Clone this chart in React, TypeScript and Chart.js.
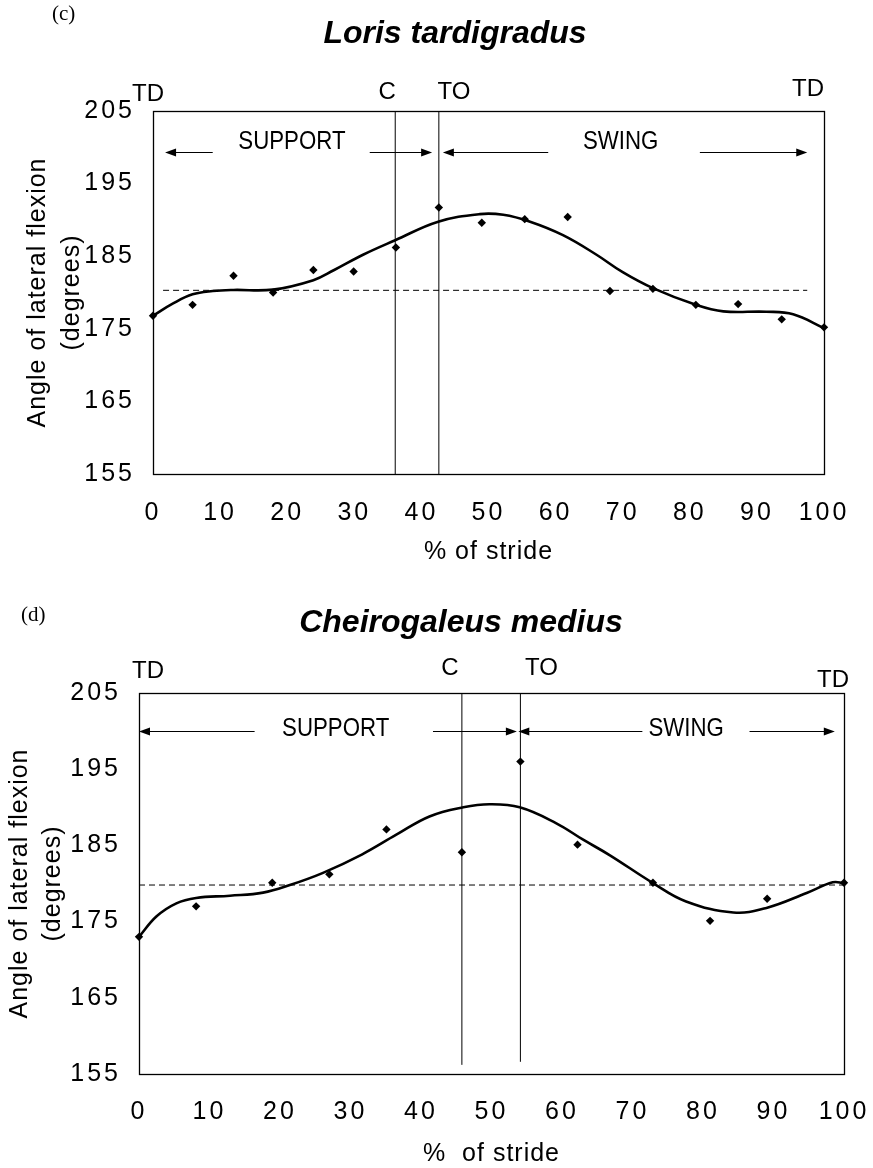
import React, { useEffect, useRef } from 'react';
import { Chart, registerables } from 'chart.js';

Chart.register(...registerables);

// ---------- shared axis ticks ----------
const strideTicks = [0, 10, 20, 30, 40, 50, 60, 70, 80, 90, 100];
const angleTicks = [155, 165, 175, 185, 195, 205];

// ---------- (c) Loris tardigradus ----------
const lorisStride = [0, 5.9, 12.0, 17.9, 23.9, 29.9, 36.2, 42.6, 49.0, 55.4, 61.8, 68.1, 74.5, 80.9, 87.2, 93.7, 100];
const lorisAngle = [176.8, 178.3, 182.3, 180.0, 183.1, 182.9, 186.2, 191.7, 189.6, 190.1, 190.4, 180.2, 180.5, 178.3, 178.4, 176.3, 175.2];
const lorisFitStride = [0, 3, 5.9, 8.9, 12, 17.9, 23.9, 27.0, 31.3, 36.1, 42.5, 48.7, 52.2, 56.2, 61.1, 66.1, 70.0, 74.5, 80.9, 85, 91.4, 95.4, 100];
const lorisFitAngle = [176.8, 178.5, 179.75, 180.2, 180.35, 180.4, 181.7, 183.1, 185.2, 187.2, 189.75, 190.8, 190.7, 189.75, 187.9, 185.2, 182.8, 180.6, 178.3, 177.4, 177.35, 177.0, 175.1];
const lorisMean = [180.3];
const lorisMeanSpan = [1.5, 97.5];
const lorisEventLabels = ['TD', 'C', 'TO', 'TD'];
const lorisEventAt = [0, 36.1, 42.6, 100];
const lorisContactSpan = [155, 205];
const lorisToeOffSpan = [155, 205];
const lorisArrowLevel = [199.35];
const lorisArrowTail = [8.9, 32.3, 58.9, 81.5];
const lorisArrowTip = [1.8, 41.6, 43.2, 97.5];
const lorisPhaseLabels = ['SUPPORT', 'SWING'];
const lorisPhaseAt = [20.7, 69.7];

// ---------- (d) Cheirogaleus medius ----------
const cheiroStride = [0, 8.1, 18.9, 27.0, 35.1, 45.8, 54.1, 62.2, 72.9, 81.0, 89.1, 100];
const cheiroAngle = [173.0, 177.0, 180.1, 181.2, 187.1, 184.1, 196.0, 185.1, 180.1, 175.1, 178.0, 180.1];
const cheiroFitStride = [0, 2.5, 5.3, 8.1, 12.9, 17.6, 21.4, 26.1, 31.6, 36.5, 41.2, 46.0, 49.7, 54.0, 59.2, 63.0, 66.8, 72.9, 77.6, 84.3, 89.0, 94.7, 98.4, 100];
const cheiroFitAngle = [173.0, 175.7, 177.4, 178.1, 178.4, 178.8, 179.8, 181.4, 183.8, 186.4, 188.8, 190.0, 190.4, 190.0, 187.9, 185.75, 183.7, 180.06, 177.65, 176.2, 176.8, 178.75, 180.15, 180.06];
const cheiroMean = [179.8];
const cheiroMeanSpan = [0, 100];
const cheiroEventLabels = ['TD', 'C', 'TO', 'TD'];
const cheiroEventAt = [0, 45.8, 54.1, 100];
const cheiroContactSpan = [156.2, 205];
const cheiroToeOffSpan = [156.6, 205];
const cheiroArrowLevel = [200.0];
const cheiroArrowTail = [16.4, 41.7, 71.4, 86.6];
const cheiroArrowTip = [0, 53.6, 53.8, 98.7];
const cheiroPhaseLabels = ['SUPPORT', 'SWING'];
const cheiroPhaseAt = [27.9, 77.6];

const FONT = "'Liberation Sans', Arial, Helvetica, sans-serif";
Chart.defaults.font.family = FONT;
Chart.defaults.color = '#000';

type Panel = {
  letter: string;
  title: string;
  xTitle: string;
  stride: number[];
  angle: number[];
  fitStride: number[];
  fitAngle: number[];
  mean: number;
  meanSpan: number[];
  eventLabels: string[];
  eventAt: number[];
  contactSpan: number[];
  toeOffSpan: number[];
  arrowLevel: number;
  arrowTail: number[];
  arrowTip: number[];
  phaseLabels: string[];
  phaseAt: number[];
};

type Layout = {
  padTop: number;
  padRight: number;
  yAxisW: number;
  xAxisH: number;
  yTickPad: number;
  xTickPad: number;
  yTitlePad: number;
  yTitleLH: number;
  xTitlePad: number;
  xTitleLH: number;
  letterX: number;
  letterY: number;
  titleX: number;
  titleY: number;
  eventDx: number[];
  eventDy: number[];
  phaseDy: number;
};

const lorisPanel: Panel = {
  letter: '(c)',
  title: 'Loris tardigradus',
  xTitle: '% of stride',
  stride: lorisStride,
  angle: lorisAngle,
  fitStride: lorisFitStride,
  fitAngle: lorisFitAngle,
  mean: lorisMean[0],
  meanSpan: lorisMeanSpan,
  eventLabels: lorisEventLabels,
  eventAt: lorisEventAt,
  contactSpan: lorisContactSpan,
  toeOffSpan: lorisToeOffSpan,
  arrowLevel: lorisArrowLevel[0],
  arrowTail: lorisArrowTail,
  arrowTip: lorisArrowTip,
  phaseLabels: lorisPhaseLabels,
  phaseAt: lorisPhaseAt,
};

const cheiroPanel: Panel = {
  letter: '(d)',
  title: 'Cheirogaleus medius',
  xTitle: '%  of stride',
  stride: cheiroStride,
  angle: cheiroAngle,
  fitStride: cheiroFitStride,
  fitAngle: cheiroFitAngle,
  mean: cheiroMean[0],
  meanSpan: cheiroMeanSpan,
  eventLabels: cheiroEventLabels,
  eventAt: cheiroEventAt,
  contactSpan: cheiroContactSpan,
  toeOffSpan: cheiroToeOffSpan,
  arrowLevel: cheiroArrowLevel[0],
  arrowTail: cheiroArrowTail,
  arrowTip: cheiroArrowTip,
  phaseLabels: cheiroPhaseLabels,
  phaseAt: cheiroPhaseAt,
};

const lorisLayout: Layout = {
  padTop: 111,
  padRight: 49,
  yAxisW: 153,
  xAxisH: 110,
  yTickPad: 18,
  xTickPad: 24,
  yTitlePad: 21,
  yTitleLH: 1.36,
  xTitlePad: 17,
  xTitleLH: 1.2,
  letterX: 52,
  letterY: 20,
  titleX: 455,
  titleY: 43,
  eventDx: [-5, -8, 15, -16],
  eventDy: [-16.5, -18.5, -18.5, -22],
  phaseDy: -10,
};

const cheiroLayout: Layout = {
  padTop: 109,
  padRight: 29,
  yAxisW: 139,
  xAxisH: 94,
  yTickPad: 18,
  xTickPad: 23,
  yTitlePad: 4,
  yTitleLH: 1.32,
  xTitlePad: 0,
  xTitleLH: 1.12,
  letterX: 21,
  letterY: 37,
  titleX: 461,
  titleY: 48,
  eventDx: [9, -12, 21, -11],
  eventDy: [-22, -25, -25, -13],
  phaseDy: -2,
};

function annotationPlugin(p: Panel, L: Layout) {
  return {
    id: 'strideAnnotations',
    afterUpdate(chart: any) {
      // wider letter spacing for the numeric tick labels only
      ['x', 'y'].forEach((id) => {
        const s = chart.scales[id];
        if (!s || s._spacedLabels) return;
        const orig = s.drawLabels.bind(s);
        s.drawLabels = (area: any) => {
          const c: any = s.ctx;
          const prev = c.letterSpacing;
          c.letterSpacing = '3px';
          orig(area);
          c.letterSpacing = prev;
        };
        s._spacedLabels = true;
      });
    },
    beforeDraw(chart: any) {
      (chart.ctx as any).letterSpacing = '1px';
    },
    afterDraw(chart: any) {
      const ctx: CanvasRenderingContext2D = chart.ctx;
      const a = chart.chartArea;
      const xs = chart.scales.x;
      const ys = chart.scales.y;
      ctx.save();
      (ctx as any).letterSpacing = '0px';
      ctx.fillStyle = '#000';
      ctx.strokeStyle = '#000';

      // plot frame
      ctx.lineWidth = 1.3;
      ctx.strokeRect(Math.round(a.left) + 0.5, Math.round(a.top) + 0.5, Math.round(a.right - a.left), Math.round(a.bottom - a.top));

      // panel letter
      ctx.font = "21px 'Liberation Serif', 'Times New Roman', serif";
      ctx.textAlign = 'left';
      ctx.textBaseline = 'alphabetic';
      ctx.fillText(p.letter, L.letterX, L.letterY);

      // title
      ctx.font = `italic bold 32px ${FONT}`;
      ctx.textAlign = 'center';
      ctx.fillText(p.title, L.titleX, L.titleY);

      // gait event labels
      ctx.font = `24px ${FONT}`;
      ctx.textBaseline = 'middle';
      ctx.textAlign = 'center';
      p.eventLabels.forEach((lab, i) => {
        ctx.fillText(lab, xs.getPixelForValue(p.eventAt[i]) + L.eventDx[i], a.top + L.eventDy[i]);
      });

      // phase arrows
      const yArrow = Math.round(ys.getPixelForValue(p.arrowLevel)) + 0.5;
      ctx.lineWidth = 1;
      p.arrowTail.forEach((tail, i) => {
        const x1 = xs.getPixelForValue(tail);
        const x2 = xs.getPixelForValue(p.arrowTip[i]);
        const dir = Math.sign(x2 - x1);
        ctx.beginPath();
        ctx.moveTo(x1, yArrow);
        ctx.lineTo(x2 - dir * 8, yArrow);
        ctx.stroke();
        ctx.beginPath();
        ctx.moveTo(x2, yArrow);
        ctx.lineTo(x2 - dir * 11, yArrow - 4);
        ctx.lineTo(x2 - dir * 11, yArrow + 4);
        ctx.closePath();
        ctx.fill();
      });

      // phase labels (condensed)
      ctx.font = `25px ${FONT}`;
      ctx.textAlign = 'center';
      ctx.textBaseline = 'middle';
      p.phaseLabels.forEach((lab, i) => {
        ctx.save();
        ctx.translate(xs.getPixelForValue(p.phaseAt[i]), yArrow + L.phaseDy);
        ctx.scale(0.89, 1);
        ctx.fillText(lab, 0, 0);
        ctx.restore();
      });
      ctx.restore();
    },
  };
}

function buildConfig(p: Panel, L: Layout): any {
  const black = '#000';
  return {
    type: 'scatter',
    data: {
      datasets: [
        {
          label: 'Measured angle',
          data: p.stride.map((x, i) => ({ x, y: p.angle[i] })),
          showLine: false,
          pointStyle: 'rectRot',
          pointRadius: 4.2,
          pointBackgroundColor: black,
          pointBorderColor: black,
          pointBorderWidth: 0,
          clip: false,
        },
        {
          label: 'Fitted curve',
          data: p.fitStride.map((x, i) => ({ x, y: p.fitAngle[i] })),
          showLine: true,
          borderColor: black,
          borderWidth: 2.6,
          pointRadius: 0,
          tension: 0.4,
          fill: false,
          clip: false,
        },
        {
          label: 'Mean',
          data: p.meanSpan.map((x) => ({ x, y: p.mean })),
          showLine: true,
          borderColor: black,
          borderWidth: 1,
          borderDash: [6, 4],
          pointRadius: 0,
          fill: false,
        },
        {
          label: 'C',
          data: p.contactSpan.map((y) => ({ x: p.eventAt[1], y })),
          showLine: true,
          borderColor: black,
          borderWidth: 1,
          pointRadius: 0,
          fill: false,
        },
        {
          label: 'TO',
          data: p.toeOffSpan.map((y) => ({ x: p.eventAt[2], y })),
          showLine: true,
          borderColor: black,
          borderWidth: 1,
          pointRadius: 0,
          fill: false,
        },
      ],
    },
    options: {
      animation: false,
      responsive: false,
      devicePixelRatio: 1,
      events: [],
      layout: { padding: { top: L.padTop, right: L.padRight, left: 0, bottom: 0 } },
      plugins: {
        legend: { display: false },
        tooltip: { enabled: false },
        title: { display: false },
      },
      scales: {
        x: {
          type: 'linear',
          min: 0,
          max: 100,
          afterBuildTicks: (s: any) => {
            s.ticks = strideTicks.map((value) => ({ value }));
          },
          grid: { display: false, drawTicks: false },
          border: { display: false },
          ticks: {
            color: black,
            font: { size: 25 },
            padding: L.xTickPad,
            maxRotation: 0,
            autoSkip: false,
          },
          title: {
            display: true,
            text: p.xTitle,
            color: black,
            font: { size: 25, lineHeight: L.xTitleLH },
            padding: { top: 0, bottom: L.xTitlePad },
          },
          afterFit: (s: any) => {
            s.height = L.xAxisH;
            s.paddingLeft = 0;
            s.paddingRight = 0;
          },
        },
        y: {
          type: 'linear',
          min: 155,
          max: 205,
          afterBuildTicks: (s: any) => {
            s.ticks = angleTicks.map((value) => ({ value }));
          },
          grid: { display: false, drawTicks: false },
          border: { display: false },
          ticks: {
            color: black,
            font: { size: 25 },
            padding: L.yTickPad,
            autoSkip: false,
          },
          title: {
            display: true,
            text: ['Angle of lateral flexion', '(degrees)'],
            color: black,
            font: { size: 25, lineHeight: L.yTitleLH },
            padding: { top: L.yTitlePad, bottom: 0 },
          },
          afterFit: (s: any) => {
            s.width = L.yAxisW;
            s.paddingTop = 0;
            s.paddingBottom = 0;
          },
        },
      },
    },
    plugins: [annotationPlugin(p, L)],
  };
}

function StridePanel({ panel, layout, top }: { panel: Panel; layout: Layout; top: number }) {
  const ref = useRef<HTMLCanvasElement>(null);
  useEffect(() => {
    if (!ref.current) return;
    const chart = new Chart(ref.current, buildConfig(panel, layout));
    return () => chart.destroy();
  }, [panel, layout]);
  return (
    <canvas
      ref={ref}
      width={873}
      height={584}
      style={{ position: 'absolute', left: 0, top, width: 873, height: 584 }}
    />
  );
}

export default function App() {
  return (
    <div style={{ position: 'absolute', left: 0, top: 0, width: 873, height: 1168, background: '#fff' }}>
      <StridePanel panel={lorisPanel} layout={lorisLayout} top={0} />
      <StridePanel panel={cheiroPanel} layout={cheiroLayout} top={584} />
    </div>
  );
}
